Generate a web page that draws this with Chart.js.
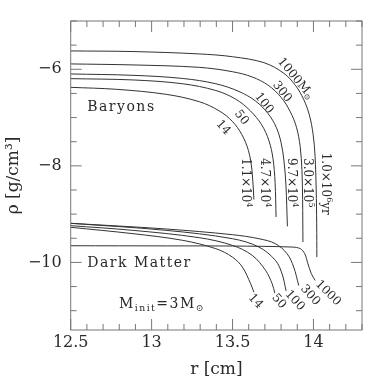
<!DOCTYPE html>
<html><head><meta charset="utf-8">
<script src="https://cdn.jsdelivr.net/npm/chart.js@4.4.1/dist/chart.umd.min.js"></script>
<style>html,body{margin:0;padding:0;background:#fff}#wrap{width:383px;height:383px}</style>
</head><body><div id="wrap"><canvas id="c" width="383" height="383"></canvas></div>
<script>
// ---- data (r [cm], log rho [g/cm^3]) ----
const baryon1000 = [[12.5,-5.62],[12.885,-5.633],[13.294,-5.682],[13.5,-5.74],[13.694,-5.863],[13.817,-6.083],[13.89,-6.34],[13.939,-6.62],[13.975,-6.95],[13.998,-7.35],[14.010,-7.8],[14.017,-8.5],[14.020,-9.2],[14.021,-9.89]];
const baryon300 = [[12.5,-5.889],[12.885,-5.91],[13.294,-5.96],[13.499,-6.05],[13.622,-6.16],[13.72,-6.33],[13.80,-6.58],[13.857,-6.88],[13.895,-7.2],[13.918,-7.6],[13.929,-8.1],[13.933,-8.7],[13.935,-9.578]];
const baryon100 = [[12.5,-6.097],[12.885,-6.125],[13.192,-6.19],[13.397,-6.30],[13.54,-6.46],[13.643,-6.66],[13.72,-6.92],[13.77,-7.2],[13.80,-7.52],[13.818,-7.9],[13.830,-8.4],[13.839,-9.253]];
const baryon50 = [[12.5,-6.194],[12.885,-6.221],[13.192,-6.3],[13.397,-6.44],[13.52,-6.62],[13.61,-6.86],[13.68,-7.15],[13.725,-7.48],[13.75,-7.85],[13.763,-8.35],[13.769,-9.059]];
const baryon14 = [[12.5,-6.374],[12.783,-6.415],[13.09,-6.519],[13.294,-6.671],[13.417,-6.86],[13.499,-7.08],[13.557,-7.35],[13.598,-7.68],[13.62,-8.09],[13.632,-8.699]];
const dark1000 = [[12.5,-9.655],[13.1,-9.658],[13.499,-9.661],[13.868,-9.682],[13.919,-9.716],[13.946,-9.82],[13.966,-10.028],[13.987,-10.235],[14.011,-10.374]];
const dark300 = [[12.5,-9.19],[13.09,-9.308],[13.499,-9.426],[13.663,-9.509],[13.765,-9.613],[13.837,-9.82],[13.878,-10.097],[13.909,-10.478]];
const dark100 = [[12.5,-9.19],[13.09,-9.336],[13.499,-9.509],[13.663,-9.682],[13.765,-9.958],[13.806,-10.235],[13.831,-10.59]];
const dark50 = [[12.5,-9.239],[12.885,-9.336],[13.294,-9.488],[13.499,-9.647],[13.622,-9.855],[13.704,-10.166],[13.745,-10.443],[13.761,-10.637]];
const dark14 = [[12.5,-9.273],[12.885,-9.405],[13.192,-9.543],[13.397,-9.716],[13.499,-9.889],[13.561,-10.097],[13.612,-10.443],[13.632,-10.616]];
const xTickValues = [12.5, 13, 13.5, 14];
const yTickValues = [-6, -8, -10];

// ---- text annotations (anchored in data coordinates) ----
const curveLabels = [
  {segs:[['1000M',''],['\u2299','sub']], r:13.89, rho:-6.19, angle:50},
  {segs:[['300','']], r:13.806, rho:-6.465, angle:52},
  {segs:[['100','']], r:13.694, rho:-6.705, angle:52},
  {segs:[['50','']], r:13.555, rho:-7.0, angle:52},
  {segs:[['14','']], r:13.442, rho:-7.21, angle:48},
  {segs:[['1.1\u00d710',''],['4','sup']], r:13.576, rho:-8.35, angle:90},
  {segs:[['4.7\u00d710',''],['4','sup']], r:13.698, rho:-8.35, angle:90},
  {segs:[['9.7\u00d710',''],['4','sup']], r:13.862, rho:-8.35, angle:90},
  {segs:[['3.0\u00d710',''],['5','sup']], r:13.964, rho:-8.35, angle:90},
  {segs:[['1.0\u00d710',''],['6','sup'],['yr','']], r:14.072, rho:-8.37, angle:90},
  {segs:[['14','']], r:13.642, rho:-10.807, angle:48},
  {segs:[['50','']], r:13.786, rho:-10.807, angle:48},
  {segs:[['100','']], r:13.884, rho:-10.79, angle:48},
  {segs:[['300','']], r:13.98, rho:-10.68, angle:48},
  {segs:[['1000','']], r:14.09, rho:-10.635, angle:45}
];
const regionLabels = [
  {segs:[['Baryons','']], r:12.602, rho:-6.78},
  {segs:[['Dark Matter','']], r:12.602, rho:-10.025},
  {segs:[['M',''],['init','sub'],['=3M',''],['\u2299','sub']], r:12.798, rho:-10.87}
];

const SERIF = '"DejaVu Serif", "Liberation Serif", serif';
const INK = '#2a2a2a';
const toXY = arr => arr.map(p => ({x:p[0], y:p[1]}));
const series = [baryon1000, baryon300, baryon100, baryon50, baryon14, dark1000, dark300, dark100, dark50, dark14];

function drawRich(ctx, segs, x, y, angle, size, spacing, align) {
  const small = size * 0.66;
  ctx.save();
  ctx.letterSpacing = spacing + 'px';
  let widths = segs.map(([t, m]) => { ctx.font = (m ? small : size) + 'px ' + SERIF; return ctx.measureText(t).width; });
  const total = widths.reduce((a, b) => a + b, 0);
  ctx.translate(x, y);
  ctx.rotate(angle * Math.PI / 180);
  ctx.textBaseline = 'middle';
  ctx.textAlign = 'left';
  ctx.fillStyle = INK;
  let cx = align === 'left' ? 0 : -total / 2;
  segs.forEach(([t, m], i) => {
    ctx.font = (m ? small : size) + 'px ' + SERIF;
    const dy = m === 'sup' ? -size * 0.32 : (m === 'sub' ? size * 0.3 : 0);
    ctx.fillText(t, cx, dy);
    cx += widths[i];
  });
  ctx.restore();
}

const framePlugin = {
  id: 'frame',
  afterDraw(chart) {
    const {ctx, chartArea: a, scales: {x, y}} = chart;
    ctx.save();
    ctx.strokeStyle = '#777';
    ctx.lineWidth = 1;
    ctx.strokeRect(a.left, a.top, a.right - a.left, a.bottom - a.top);
    ctx.beginPath();
    for (let i = 0; i <= 18; i++) {
      const v = 12.5 + i * 0.1;
      const px = x.getPixelForValue(v);
      const major = xTickValues.some(t => Math.abs(t - v) < 1e-6);
      const len = major ? 11 : 6;
      ctx.moveTo(px, a.bottom); ctx.lineTo(px, a.bottom - len);
      ctx.moveTo(px, a.top); ctx.lineTo(px, a.top + len);
    }
    for (let i = 0; i <= 12; i++) {
      const v = -5 - i * 0.5;
      const py = y.getPixelForValue(v);
      const major = yTickValues.some(t => Math.abs(t - v) < 1e-6);
      const len = major ? 11 : 6;
      ctx.moveTo(a.left, py); ctx.lineTo(a.left + len, py);
      ctx.moveTo(a.right, py); ctx.lineTo(a.right - len, py);
    }
    ctx.stroke();
    ctx.restore();
    curveLabels.forEach(l => drawRich(ctx, l.segs, x.getPixelForValue(l.r), y.getPixelForValue(l.rho), l.angle, 12, 0, 'center'));
    regionLabels.forEach(l => drawRich(ctx, l.segs, x.getPixelForValue(l.r), y.getPixelForValue(l.rho), 0, 14, 1.5, 'left'));
  }
};

new Chart(document.getElementById('c'), {
  type: 'line',
  data: {
    datasets: series.map(s => ({data: toXY(s), borderColor: '#333', borderWidth: 1, pointRadius: 0, tension: 0.35, fill: false}))
  },
  options: {
    responsive: false,
    animation: false,
    devicePixelRatio: 1,
    layout: {padding: {top: 21, right: 21, left: 0, bottom: 0}},
    plugins: {legend: {display: false}, tooltip: {enabled: false}},
    scales: {
      x: {
        type: 'linear', min: 12.5, max: 14.3,
        afterBuildTicks: s => { s.ticks = xTickValues.map(v => ({value: v})); },
        afterFit: s => { s.height = 53; },
        grid: {display: false, drawTicks: false},
        border: {display: false},
        ticks: {font: {family: SERIF, size: 16}, color: INK, padding: 3, maxRotation: 0, callback: v => String(v)},
        title: {display: true, text: 'r [cm]', font: {family: SERIF, size: 17}, color: INK, padding: {top: 0, bottom: 3}}
      },
      y: {
        type: 'linear', min: -11.4, max: -5.0,
        afterBuildTicks: s => { s.ticks = yTickValues.map(v => ({value: v})); },
        afterFit: s => { s.width = 70.7; },
        grid: {display: false, drawTicks: false},
        border: {display: false},
        ticks: {font: {family: SERIF, size: 16}, color: INK, padding: 9, callback: v => '\u2212' + Math.abs(v)},
        title: {display: true, text: '\u03c1 [g/cm\u00b3]', font: {family: SERIF, size: 17}, color: INK, padding: {top: 3, bottom: 0}}
      }
    }
  },
  plugins: [framePlugin]
});
</script></body></html>
